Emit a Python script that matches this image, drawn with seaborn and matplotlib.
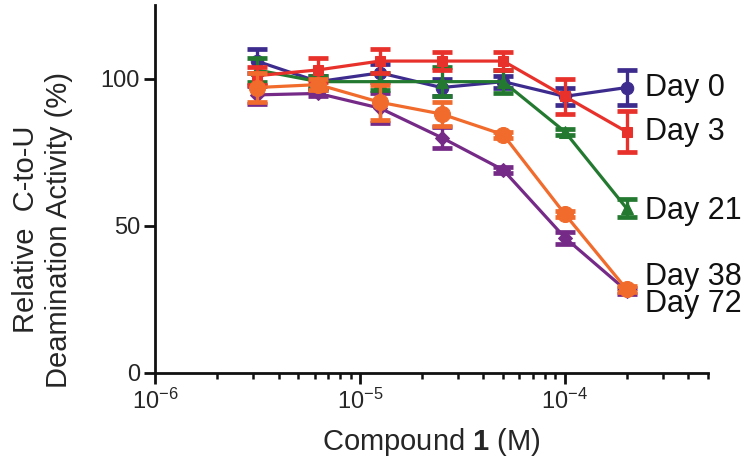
"""
Dose-response of C-to-U deamination activity versus Compound 1,
one line per storage day, with error bars.
"""

import matplotlib
matplotlib.use("Agg")
import matplotlib.pyplot as plt
import seaborn as sns
import pandas as pd

# concentration of compound 1 (M), 2-fold dilution series
conc = [3.125e-6, 6.25e-6, 1.25e-5, 2.5e-5, 5e-5, 1e-4, 2e-4]

day_labels = ["Day 0", "Day 72", "Day 21", "Day 3", "Day 38"]

day0 = [106, 99, 102, 97, 99, 94, 97]
day0_err = [4, 2, 3, 3, 2, 3, 6]
day3 = [101, 103, 106, 106, 106, 94, 82]
day3_err = [3, 4, 4, 3, 3, 6, 7]
day21 = [103, 99, 99, 99, 99, 82, 56]
day21_err = [4, 2, 3, 5, 4, 1, 3]
day38 = [97, 98, 92, 88, 81, 54, 28.5]
day38_err = [5, 2, 6, 4, 1, 1, 1]
day72 = [94.5, 95, 90, 80, 69, 46, 28]
day72_err = [3, 1, 5, 3.5, 1, 2, 1]

sns.set_theme(style="ticks")
plt.rcParams["font.family"] = ["Liberation Sans", "DejaVu Sans"]
plt.rcParams["mathtext.fontset"] = "custom"
plt.rcParams["mathtext.rm"] = "Liberation Sans"
plt.rcParams["mathtext.bf"] = "Liberation Sans:bold"

series = {
    "Day 0": (day0, day0_err, "#3d2c8d", "o", 9),
    "Day 3": (day3, day3_err, "#e8312b", "s", 7.5),
    "Day 21": (day21, day21_err, "#23792f", "^", 8.5),
    "Day 38": (day38, day38_err, "#f06b2c", "o", 11.5),
    "Day 72": (day72, day72_err, "#762a88", "D", 7),
}

frames = []
for name, (vals, errs, *_rest) in series.items():
    frames.append(pd.DataFrame({"conc": conc, "activity": vals, "err": errs, "day": name}))
df = pd.concat(frames, ignore_index=True)

fig, ax = plt.subplots(figsize=(7.5, 4.68), dpi=100)
fig.subplots_adjust(left=0.207, right=0.944, bottom=0.203, top=0.989)

for z, name in enumerate(day_labels):
    vals, errs, color, marker, ms = series[name]
    sub = df[df["day"] == name]
    ax.errorbar(sub["conc"], sub["activity"], yerr=sub["err"], fmt="none",
                ecolor=color, elinewidth=2.4, capsize=7.5, capthick=3.4, zorder=2 + z)
    sns.lineplot(data=sub, x="conc", y="activity", color=color, marker=marker,
                 markersize=ms, markeredgecolor=color, linewidth=2.3,
                 ax=ax, zorder=2 + z, legend=False)

# labels at the right end of each line
offsets = {"Day 0": 0, "Day 3": 0, "Day 21": -2, "Day 38": 9, "Day 72": -10}
for name, (vals, *_rest) in series.items():
    ax.annotate(name, xy=(conc[-1], vals[-1]), xytext=(13, offsets[name]),
                textcoords="offset points", ha="left", va="center",
                fontsize=22, color="#111111", annotation_clip=False)

ax.set_xscale("log")
ax.set_xlim(1e-6, 5e-4)
ax.set_ylim(0, 125)
ax.set_yticks([0, 50, 100])
ax.set_xticks([1e-6, 1e-5, 1e-4])

ax.set_xlabel(r"Compound $\mathbf{1}$ (M)", fontsize=21, labelpad=9)
ax.set_ylabel("Relative  C-to-U\nDeamination Activity (%)", fontsize=21,
              linespacing=1.25)
ax.yaxis.set_label_coords(-0.148, 0.39)

sns.despine(ax=ax)
for side in ["left", "bottom"]:
    ax.spines[side].set_linewidth(2.0)
    ax.spines[side].set_color("#111111")
ax.tick_params(axis="both", which="major", length=8, width=2.0,
               labelsize=17, pad=3, color="#111111")
ax.tick_params(axis="x", which="minor", length=4.5, width=1.8, color="#111111")

fig.savefig("out.png", dpi=100)
plt.close(fig)
